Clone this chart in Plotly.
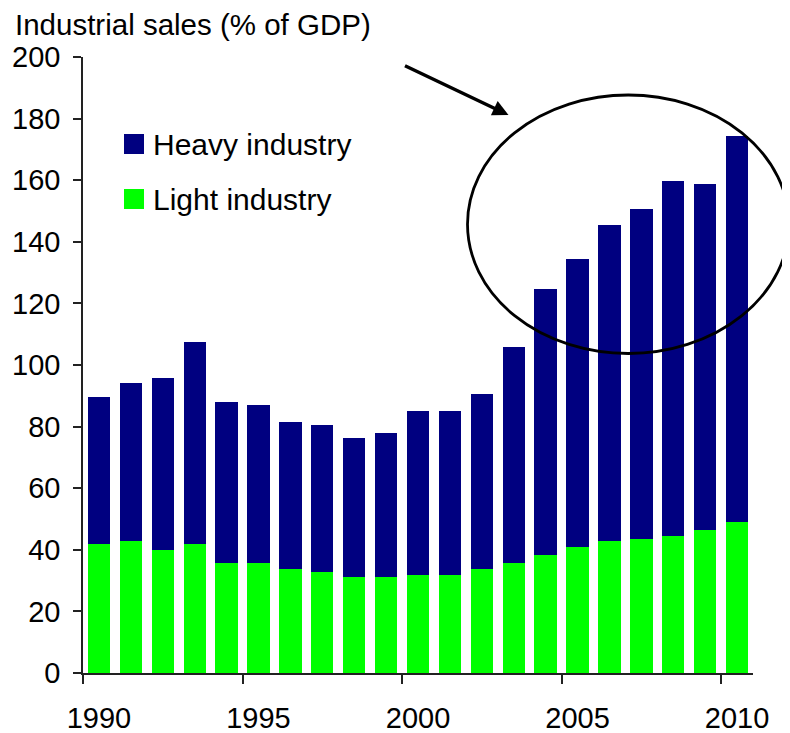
import plotly.graph_objects as go

# ---- data ----
years = list(range(1990, 2011))
light = [42.0, 43.0, 40.0, 42.0, 35.8, 35.8, 33.9, 32.9, 31.3, 31.3, 31.9,
         31.9, 33.9, 35.8, 38.4, 41.0, 43.0, 43.6, 44.6, 46.5, 49.1]
heavy = [47.7, 51.3, 55.9, 65.6, 52.3, 51.3, 47.7, 47.7, 45.1, 46.7, 53.3,
         53.3, 56.8, 70.2, 86.4, 93.5, 102.6, 107.2, 115.2, 112.4, 125.1]
tick_years = [1990, 1995, 2000, 2005, 2010]
y_ticks = list(range(0, 201, 20))
series_names = ["Heavy industry", "Light industry"]
title_text = "Industrial sales (% of GDP)"

# ---- styling / layout constants ----
HEAVY_COLOR = "#000080"
LIGHT_COLOR = "#00FF00"
AXIS_COLOR = "#222222"
FONT = "Liberation Sans, Arial, sans-serif"
FS_TEXT = 30
FS_TITLE = 29.5
FS_TICK = 29

OFF = 8  # default page body margin
FIG_W, FIG_H = 790 - OFF, 733 - OFF
ML, MR, MT, MB = 75, 37, 49, 60
PW = FIG_W - ML - MR
PH = FIG_H - MT - MB


def px_x(px):
    """page pixel x -> paper coordinate"""
    return (px - OFF - ML) / PW


def px_y(py):
    """page pixel y -> paper coordinate"""
    return (FIG_H - MB - (py - OFF)) / PH


fig = go.Figure()
fig.add_trace(go.Bar(x=years, y=light, name=series_names[1],
                     marker=dict(color=LIGHT_COLOR, line=dict(width=0)),
                     showlegend=False))
fig.add_trace(go.Bar(x=years, y=heavy, name=series_names[0],
                     marker=dict(color=HEAVY_COLOR, line=dict(width=0)),
                     showlegend=False))

shapes = []
annotations = []

# manual legend
legend_items = [(series_names[0], HEAVY_COLOR, 144), (series_names[1], LIGHT_COLOR, 199)]
for name, col, cy in legend_items:
    shapes.append(dict(type="rect", xref="paper", yref="paper",
                       x0=px_x(124), x1=px_x(144), y0=px_y(cy + 10), y1=px_y(cy - 10),
                       fillcolor=col, line=dict(width=0)))
    annotations.append(dict(xref="paper", yref="paper", x=px_x(151), y=px_y(cy),
                            xanchor="left", yanchor="middle", text=name,
                            showarrow=False,
                            font=dict(family=FONT, size=FS_TEXT, color="black")))

# ellipse highlight
shapes.append(dict(type="circle", xref="paper", yref="paper",
                   x0=px_x(467.5), x1=px_x(789), y0=px_y(353.5), y1=px_y(95),
                   line=dict(color="black", width=2.8), fillcolor="rgba(0,0,0,0)",
                   layer="above"))

# arrow
annotations.append(dict(xref="paper", yref="paper", x=px_x(508.5), y=px_y(115),
                        ax=403.5 - 508.5, ay=65 - 115, text="", showarrow=True,
                        arrowhead=2, arrowsize=0.9, arrowwidth=3.5, arrowcolor="black",
                        standoff=0))

# title
annotations.append(dict(xref="paper", yref="paper", x=px_x(13), y=px_y(24.5),
                        xanchor="left", yanchor="middle", text=title_text,
                        showarrow=False,
                        font=dict(family=FONT, size=FS_TITLE, color="black")))

fig.update_layout(
    width=FIG_W, height=FIG_H,
    margin=dict(l=ML, r=MR, t=MT, b=MB, pad=0, autoexpand=False),
    paper_bgcolor="white", plot_bgcolor="white",
    barmode="stack", bargap=0.3,
    font=dict(family=FONT, size=FS_TICK, color="black"),
    shapes=shapes, annotations=annotations,
    showlegend=False,
    xaxis=dict(range=[1989.5, 2010.5], tickmode="array", tickvals=tick_years,
               ticktext=[str(t) for t in tick_years], ticks="", showgrid=False,
               zeroline=False, showline=True, linecolor=AXIS_COLOR, linewidth=1.5,
               automargin=False,
               tickfont=dict(family=FONT, size=FS_TICK, color="black"),
               ticklabelstandoff=18,
               minor=dict(tickmode="array", tickvals=[t - 0.5 for t in tick_years],
                          ticks="outside", ticklen=9, tickwidth=1.5,
                          tickcolor=AXIS_COLOR, showgrid=False)),
    yaxis=dict(range=[0, 200], tickmode="array", tickvals=y_ticks,
               ticks="outside", ticklen=8, tickwidth=1.5, tickcolor=AXIS_COLOR,
               showgrid=False, zeroline=False, showline=True,
               linecolor=AXIS_COLOR, linewidth=1.5, automargin=False,
               tickfont=dict(family=FONT, size=FS_TICK, color="black"),
               ticklabelstandoff=7),
)

fig.write_html("out.html")
